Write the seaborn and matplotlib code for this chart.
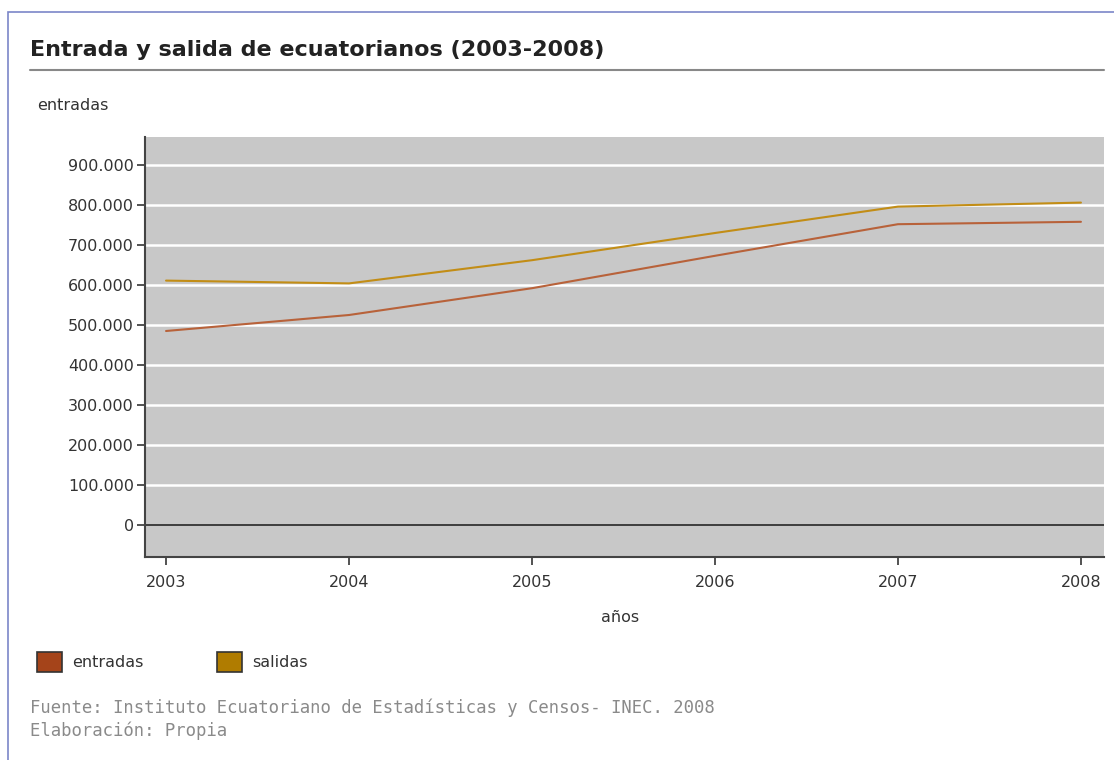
import matplotlib
matplotlib.use("Agg")
import matplotlib.pyplot as plt
import matplotlib.ticker as mticker
from matplotlib.patches import Patch, Rectangle
from matplotlib.lines import Line2D
import pandas as pd
import seaborn as sns

years = [2003, 2004, 2005, 2006, 2007, 2008]
entradas = [485000, 525000, 592000, 673000, 752000, 758000]
salidas = [611000, 604000, 662000, 730000, 796000, 806000]
series_names = ["entradas", "salidas"]
yticks = [0, 100000, 200000, 300000, 400000, 500000, 600000, 700000, 800000, 900000]

df = pd.DataFrame({
    "año": years * 2,
    "valor": entradas + salidas,
    "serie": [series_names[0]] * len(years) + [series_names[1]] * len(years),
})

sns.set_theme(style="white")
plt.rcParams["font.family"] = ["DejaVu Sans"]

line_colors = {"entradas": "#b8623a", "salidas": "#c28d16"}
legend_colors = {"entradas": "#a5441a", "salidas": "#b07c00"}

fig = plt.figure(figsize=(11.14, 7.6), dpi=100)
fig.patch.set_facecolor("white")

# outer border
fig.add_artist(Rectangle((8 / 1114, -0.01), 1.2, 1 - 12 / 760 + 0.01,
                         transform=fig.transFigure, fill=False,
                         edgecolor="#7b86c8", linewidth=1.2))

ax = fig.add_axes([145 / 1114, 1 - 557 / 760, (1104 - 145) / 1114, (557 - 137) / 760])
ax.set_facecolor("#c8c8c8")

for y in yticks[1:]:
    ax.axhline(y, color="white", linewidth=1.8, zorder=1)
ax.axhline(0, color="#333333", linewidth=1.3, zorder=2)

sns.lineplot(data=df, x="año", y="valor", hue="serie", palette=line_colors,
             linewidth=1.5, ax=ax, legend=False, zorder=3)

ax.set_xlim(2002.885, 2008.126)
ax.set_ylim(-80000, 970000)
ax.set_xticks(years)
ax.set_xticklabels([str(y) for y in years])
ax.set_yticks(yticks)
ax.yaxis.set_major_formatter(mticker.FuncFormatter(lambda v, p: f"{int(v):,}".replace(",", ".")))
ax.tick_params(axis="both", which="major", direction="out", length=6, width=1.3,
               color="#444444", labelcolor="#333333", labelsize=11.5,
               left=True, bottom=True)
ax.tick_params(axis="y", pad=2)
ax.tick_params(axis="x", pad=7)
ax.set_xlabel("")
ax.set_ylabel("")
for s in ["top", "right"]:
    ax.spines[s].set_visible(False)
for s in ["left", "bottom"]:
    ax.spines[s].set_color("#444444")
    ax.spines[s].set_linewidth(1.5)

# title
fig.text(30 / 1114, 1 - 50 / 760, "Entrada y salida de ecuatorianos (2003-2008)",
         fontsize=16, fontweight="bold", color="#222222", va="center", ha="left")
fig.add_artist(Line2D([30 / 1114, 1104 / 1114], [1 - 70 / 760, 1 - 70 / 760],
                      transform=fig.transFigure, color="#888888", linewidth=1.5))
fig.text(37 / 1114, 1 - 105 / 760, "entradas", fontsize=11.5, color="#333333",
         va="center", ha="left")
fig.text(620 / 1114, 1 - 618 / 760, "años", fontsize=11.5, color="#333333",
         va="center", ha="center")

handles = [Patch(facecolor=legend_colors[n], edgecolor="#333333", linewidth=1.2, label=n)
           for n in series_names]
fig.legend(handles=handles, loc="center left", bbox_to_anchor=(37 / 1114, 1 - 662 / 760),
           ncol=2, frameon=False, fontsize=11.5, handlelength=1.55, handleheight=1.55,
           handletextpad=0.65, columnspacing=4.6, labelcolor="#333333",
           borderpad=0, borderaxespad=0)

fig.text(30 / 1114, 1 - 708 / 760,
         "Fuente: Instituto Ecuatoriano de Estadísticas y Censos- INEC. 2008",
         fontsize=12.4, color="#8a8a8a", va="center", ha="left", family="DejaVu Sans Mono")
fig.text(30 / 1114, 1 - 731 / 760, "Elaboración: Propia",
         fontsize=12.4, color="#8a8a8a", va="center", ha="left", family="DejaVu Sans Mono")

fig.savefig("out.png", dpi=100, facecolor="white")
